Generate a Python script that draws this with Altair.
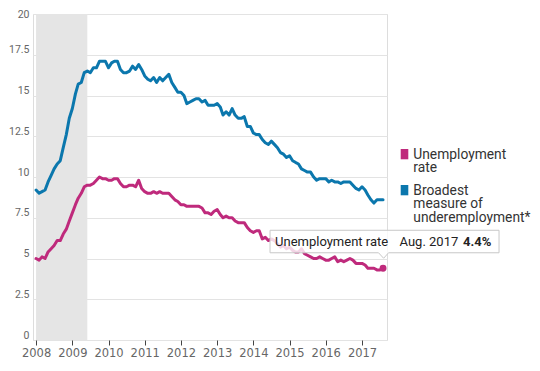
import altair as alt
import pandas as pd

# ---- data (monthly, Jan 2008 - Aug 2017) ----
months = pd.date_range("2008-01-01", "2017-08-01", freq="MS").strftime("%Y-%m-%d").tolist()

unemployment = [
    5.0, 4.9, 5.1, 5.0, 5.4, 5.6, 5.8, 6.1, 6.1, 6.5, 6.8, 7.3,
    7.8, 8.3, 8.7, 9.0, 9.4, 9.5, 9.5, 9.6, 9.8, 10.0, 9.9, 9.9,
    9.8, 9.8, 9.9, 9.9, 9.6, 9.4, 9.4, 9.5, 9.5, 9.4, 9.8, 9.3,
    9.1, 9.0, 9.0, 9.1, 9.0, 9.1, 9.0, 9.0, 9.0, 8.8, 8.6, 8.5,
    8.3, 8.3, 8.2, 8.2, 8.2, 8.2, 8.2, 8.1, 7.8, 7.8, 7.7, 7.9,
    8.0, 7.7, 7.5, 7.6, 7.5, 7.5, 7.3, 7.2, 7.2, 7.2, 6.9, 6.7,
    6.6, 6.7, 6.7, 6.2, 6.3, 6.1, 6.2, 6.1, 5.9, 5.7, 5.8, 5.6,
    5.7, 5.5, 5.4, 5.4, 5.6, 5.3, 5.2, 5.1, 5.0, 5.0, 5.1, 5.0,
    4.9, 4.9, 5.0, 5.1, 4.8, 4.9, 4.8, 4.9, 5.0, 4.9, 4.7, 4.7,
    4.7, 4.6, 4.4, 4.4, 4.4, 4.3, 4.3, 4.4,
]

underemployment = [
    9.2, 9.0, 9.1, 9.2, 9.7, 10.1, 10.5, 10.8, 11.0, 11.8, 12.6, 13.6,
    14.2, 15.1, 15.7, 15.8, 16.4, 16.5, 16.4, 16.7, 16.7, 17.1, 17.1, 17.1,
    16.7, 17.0, 17.1, 17.1, 16.6, 16.4, 16.4, 16.5, 16.8, 16.6, 16.9, 16.6,
    16.2, 16.0, 15.9, 16.1, 15.8, 16.1, 15.9, 16.1, 16.3, 15.8, 15.5, 15.2,
    15.2, 15.0, 14.5, 14.6, 14.7, 14.8, 14.8, 14.6, 14.7, 14.4, 14.4, 14.4,
    14.5, 14.3, 13.8, 14.0, 13.8, 14.2, 13.8, 13.6, 13.6, 13.7, 13.1, 13.1,
    12.7, 12.6, 12.6, 12.3, 12.1, 12.0, 12.2, 12.0, 11.8, 11.5, 11.4, 11.2,
    11.3, 11.0, 10.9, 10.8, 10.5, 10.4, 10.3, 10.3, 10.0, 9.8, 9.9, 9.9,
    9.9, 9.7, 9.8, 9.7, 9.7, 9.6, 9.7, 9.7, 9.7, 9.5, 9.3, 9.2,
    9.4, 9.2, 8.9, 8.6, 8.4, 8.6, 8.6, 8.6,
]

series_names = ["Unemployment rate", "Broadest measure of underemployment*"]
series_colors = ["#bf2a7c", "#0b77ad"]
legend_lines = [["Unemployment", "rate"], ["Broadest", "measure of", "underemployment*"]]

recession_start = ["2008-01-01"]
recession_end = ["2009-06-01"]

y_ticks = [0, 2.5, 5, 7.5, 10, 12.5, 15, 17.5, 20]

# ---- tables ----
df = pd.concat([
    pd.DataFrame({"date": months, "value": unemployment, "series": series_names[0]}),
    pd.DataFrame({"date": months, "value": underemployment, "series": series_names[1]}),
])
rec = pd.DataFrame({"start": recession_start, "end": recession_end})

last = pd.DataFrame({
    "date": [months[-1]],
    "value": [unemployment[-1]],
    "series": [series_names[0]],
    "datestr": [pd.Timestamp(months[-1]).strftime("%b. %Y")],
    "valstr": [f"{unemployment[-1]}%"],
})

W, H = 354, 326

xscale = alt.Scale(type="utc",
                   domain=[alt.DateTime(year=2007, month=12, date=1, utc=True),
                           alt.DateTime(year=2017, month=9, date=10, utc=True)])
yscale = alt.Scale(domain=[0, 20], nice=False)
cscale = alt.Scale(domain=series_names, range=series_colors)

xaxis = alt.Axis(format="%Y", tickCount={"interval": "year", "step": 1}, title=None,
                 grid=False, domain=False, ticks=True, tickSize=5, tickColor="#444",
                 tickWidth=1, labelPadding=2, labelFlush=False,
                 labelFont="DejaVu Sans", labelFontSize=11.5, labelColor="#666")
yaxis = alt.Axis(values=y_ticks,
                 labelExpr="datum.value % 1 == 0 ? format(datum.value, 'd') : format(datum.value, '.1f')",
                 title=None, grid=True, gridColor="#e3e3e3",
                 gridWidth=1, domain=False, ticks=False, labelPadding=4,
                 labelBaseline="alphabetic", labelFlush=False,
                 labelOffset={"condition": {"test": "datum.value == 20", "value": 3}, "value": -2},
                 labelFont="Roboto", labelFontSize=10.5, labelColor="#666")

recession = alt.Chart(rec).mark_rect(color="#e5e5e5").encode(
    x=alt.X("start:T", scale=xscale, axis=xaxis),
    x2="end:T",
    y=alt.datum(0, scale=yscale, axis=yaxis),
    y2=alt.datum(20),
)

lines = alt.Chart(df).mark_line(strokeWidth=3, strokeJoin="round", strokeCap="round").encode(
    x=alt.X("date:T", scale=xscale),
    y=alt.Y("value:Q", scale=yscale),
    color=alt.Color("series:N", scale=cscale, legend=None),
)

endpoint = alt.Chart(last).mark_circle(size=48, opacity=1, color=series_colors[0]).encode(
    x=alt.X("date:T", scale=xscale),
    y=alt.Y("value:Q", scale=yscale),
)

callout_path = "M-113,-38H116V-15.5H5.5L0.6,-10L-4.5,-15.5H-113Z"
callout = alt.Chart(last).mark_point(
    shape=callout_path, size=4, filled=True, fill="white", fillOpacity=0.8,
    stroke="#c8c8c8", strokeWidth=1, strokeOpacity=1, opacity=1,
).encode(
    x=alt.X("date:T", scale=xscale),
    y=alt.Y("value:Q", scale=yscale),
)

tip_font = dict(font="Roboto", fontSize=13, color="#222", align="left", baseline="alphabetic", dy=-22.5)
tip_label = alt.Chart(last).mark_text(dx=-108, **tip_font).encode(
    x=alt.X("date:T", scale=xscale), y=alt.Y("value:Q", scale=yscale), text="series:N")
tip_date = alt.Chart(last).mark_text(dx=16.5, **tip_font).encode(
    x=alt.X("date:T", scale=xscale), y=alt.Y("value:Q", scale=yscale), text="datestr:N")
tip_val = alt.Chart(last).mark_text(dx=80, fontWeight="bold", **tip_font).encode(
    x=alt.X("date:T", scale=xscale), y=alt.Y("value:Q", scale=yscale), text="valstr:N")

# ---- legend (swatch + wrapped label per series) ----
legend_layers = []
legend_tops = [135, 171]
for name, text_lines, top in zip(series_names, legend_lines, legend_tops):
    ld = pd.DataFrame({"series": [name], "label": ["\n".join(text_lines)]})
    sw = alt.Chart(ld).mark_rect().encode(
        x=alt.value(367.7), x2=alt.value(375.3),
        y=alt.value(top), y2=alt.value(top + 10.3),
        color=alt.Color("series:N", scale=cscale, legend=None),
    )
    tx = alt.Chart(ld).mark_text(
        align="left", baseline="alphabetic", lineBreak="\n", lineHeight=13.6,
        font="Roboto", fontSize=13.8, color="#333",
    ).encode(x=alt.value(380.3), y=alt.value(top + 9.6), text="label:N")
    legend_layers += [sw, tx]

chart = alt.layer(recession, lines, endpoint, callout, tip_label, tip_date, tip_val,
                  *legend_layers).properties(
    width=W, height=H,
    autosize=alt.AutoSizeParams(type="none"),
    padding={"left": 25, "top": 6, "right": 145, "bottom": 20},
).configure_view(stroke=None).configure(background="white")

chart.save("out.html", embed_options={"renderer": "svg", "actions": False})
